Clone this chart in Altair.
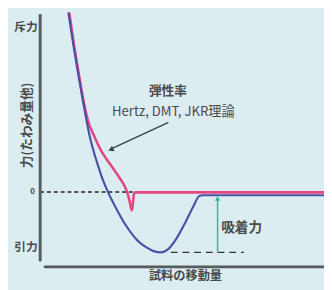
import altair as alt
import pandas as pd

# Curves (x: sample displacement, y: force)
blue_x = [9.97, 11.68, 13.40, 15.12, 16.15, 17.53, 18.90, 20.27, 21.99, 23.71, 27.15, 30.58, 34.02, 37.46, 40.21, 42.61, 45.02, 47.77, 51.20, 53.95, 56.01, 57.4, 100]
blue_y = [2.952, 2.435, 1.952, 1.484, 1.226, 0.903, 0.661, 0.452, 0.210, 0.016, -0.306, -0.581, -0.790, -0.919, -0.984, -1.0, -0.952, -0.790, -0.500, -0.242, -0.07, -0.055, -0.055]
red_x = [10.3, 11.9, 13.6, 15.5, 16.84, 18.90, 21.31, 24.74, 27.84, 29.90, 30.93, 31.62, 32.30, 32.65, 32.99, 33.51, 35.74, 100]
red_y = [2.952, 2.435, 1.952, 1.452, 1.177, 0.935, 0.694, 0.452, 0.242, 0.081, -0.048, -0.177, -0.306, -0.194, -0.048, -0.008, -0.008, -0.008]

X0, X1 = -11.34, 100
Y0, Y1 = -1.565, 2.984
xs = alt.Scale(domain=[X0, X1], range=[0, 324], nice=False, zero=False)
ys = alt.Scale(domain=[Y0, Y1], range=[282, 0], nice=False, zero=False)
xe = alt.X("x:Q", scale=xs, axis=None)
ye = alt.Y("y:Q", scale=ys, axis=None)

FONT = "Noto Sans CJK JP"
TXT = "#4a4a4a"

def line(xv, yv, color, width, dash=None, interp="linear"):
    df = pd.DataFrame({"x": xv, "y": yv, "o": list(range(len(xv)))})
    kw = dict(color=color, strokeWidth=width, strokeCap="round", interpolate=interp)
    if dash:
        kw["strokeDash"] = dash
        kw["strokeCap"] = "butt"
    return alt.Chart(df).mark_line(**kw).encode(x=xe, y=ye, order="o:Q")

def text(label, x, y, size, angle=0, weight="bold", align="center"):
    df = pd.DataFrame({"x": [x], "y": [y], "t": [label]})
    return alt.Chart(df).mark_text(font=FONT, fontSize=size, color=TXT, fontWeight=weight,
                                   angle=angle, align=align, baseline="middle").encode(x=xe, y=ye, text="t:N")

y_axis = line([0, 0], [-1.13, 2.92], "#555b5e", 3)
x_axis = line([1.7, 100], [-1.24, -1.24], "#555b5e", 3)
zero_line = line([0, 37], [0, 0], "#222222", 1.5, dash=[4, 3])
min_line = line([46.0, 71.8], [-1.0, -1.0], "#333333", 1.5, dash=[7, 5])
blue = line(blue_x, blue_y, "#4b4fa6", 2.2, interp="monotone")
red = line(red_x, red_y, "#e4467e", 2.6, interp="monotone")

green = line([62.5, 62.5], [-1.0, -0.1], "#3ab59c", 1.5)
green_head = alt.Chart(pd.DataFrame({"x": [62.5], "y": [-0.11]})).mark_point(
    shape="triangle-up", filled=True, size=30, color="#3ab59c", opacity=1).encode(x=xe, y=ye)

arrow = line([45.0, 25.4], [1.145, 0.72], "#3d4346", 1.5)
arrow_head = alt.Chart(pd.DataFrame({"x": [24.9], "y": [0.70]})).mark_point(
    shape="triangle-up", filled=True, size=40, color="#3d4346", opacity=1, angle=245).encode(x=xe, y=ye)

texts = [
    text("斥力", -5.0, 2.73, 12),
    text("力(たわみ量他)", -4.6, 1.10, 13, angle=270),
    text("0", -2.7, 0.0, 8),
    text("引力", -5.0, -0.92, 12),
    text("試料の移動量", 51.2, -1.40, 12.5),
    text("吸着力", 71.0, -0.60, 14),
    text("弾性率", 45.0, 1.67, 13),
    text("Hertz, DMT, JKR理論", 46.9, 1.32, 13.5, weight="normal"),
]

chart = alt.layer(
    zero_line, min_line, y_axis, x_axis, red, blue, green, green_head, arrow, arrow_head, *texts
).properties(
    width=324, height=282, background="#dcedf2", padding=0,
    autosize=alt.AutoSizeParams(type="none")
).configure_view(stroke=None)

chart.save("out.html", embed_options={"renderer": "svg", "actions": False})
